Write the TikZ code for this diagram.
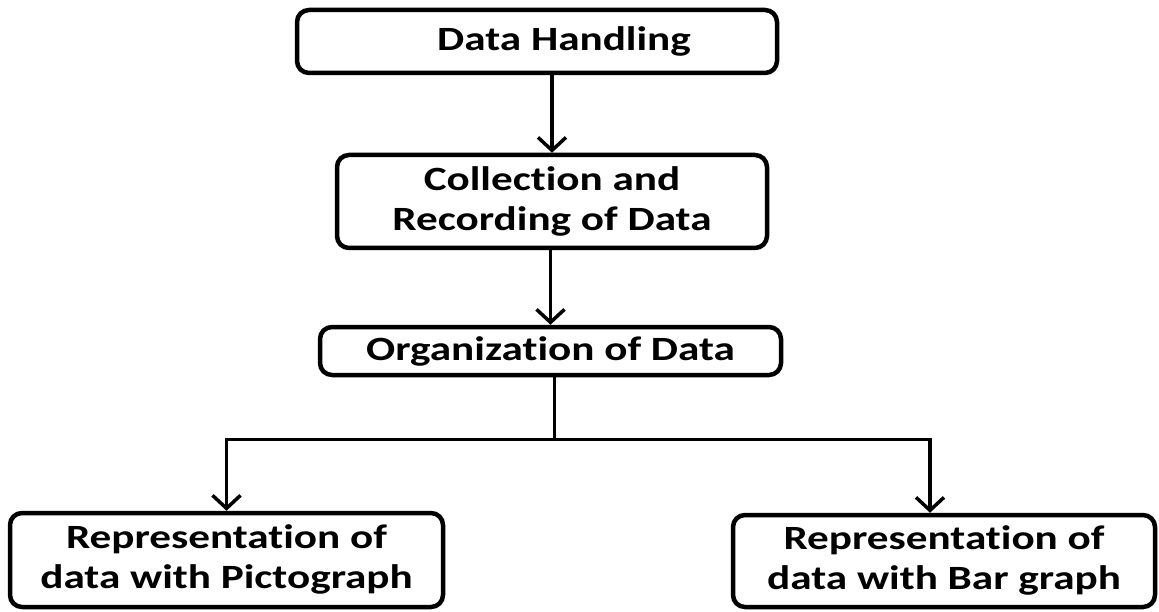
\documentclass[tikz,border=0pt]{standalone}
\usepackage{fontspec}
\setmainfont{Carlito}[FakeStretch=1.27, RawFeature=-liga]
\usetikzlibrary{arrows.meta,calc}

\tikzset{
  box/.style={draw, line width=4.5pt, rounded corners=12pt, inner sep=0pt,
              align=center, font=\fontsize{34}{40}\selectfont\bfseries},
  conn/.style={line width=3.5pt},
  arr/.style={conn, -{Straight Barb[length=13pt,width=28pt]}}
}

\begin{document}
\begin{tikzpicture}[x=1pt, y=-1pt]
  \useasboundingbox (0,0) rectangle (1159,612);

  % boxes of the flow chart
  \node[box, minimum width=480pt, minimum height=63pt] (dh) at (537,41.5) {\hspace*{54pt}Data Handling};
  \node[box, minimum width=430pt, minimum height=93pt] (cr) at (552,201.5) {Collection and\\Recording of Data};
  \node[box, minimum width=461pt, minimum height=48pt] (org) at (550.5,351) {Organization of Data};
  \node[box, minimum width=433pt, minimum height=94pt, text depth=6pt] (pic) at (226.5,560) {Representation of\\data with Pictograph};
  \node[box, minimum width=422pt, minimum height=92pt, text depth=6pt] (bar) at (944,561) {Representation of\\data with Bar graph};

  % straight arrows down the chain
  \draw[arr] (cr.north |- dh.south) -- (cr.north);
  \draw[arr] (org.north |- cr.south) -- (org.north);

  % branching into the two representations
  \coordinate (trunk) at ($(org.south)+(4,0)$);
  \draw[conn] (trunk) -- ++(0,62) coordinate (split);
  \coordinate (barin) at ($(bar.north)+(-14,0)$);
  \draw[arr] (split) -| (pic.north);
  \draw[arr] (split) -| (barin);
\end{tikzpicture}
\end{document}
